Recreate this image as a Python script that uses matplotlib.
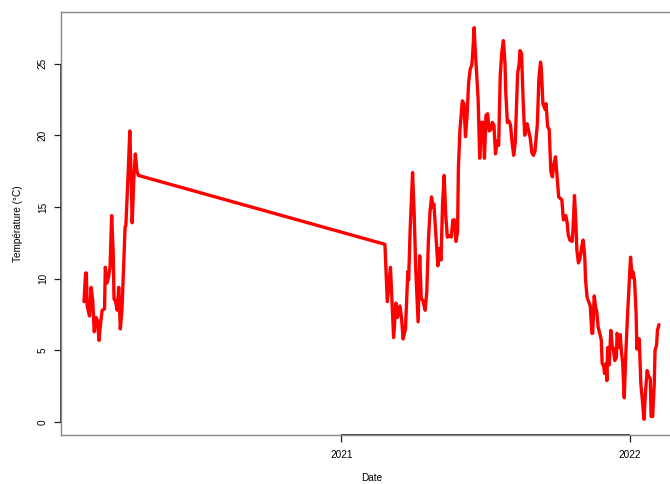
import numpy as np
import matplotlib
matplotlib.use("Agg")
import matplotlib.pyplot as plt
import matplotlib.dates as mdates
import datetime as dt

# Day offsets from 2020-01-01 and temperatures (°C)
days = [40, 42, 43, 44, 47, 49, 51, 53, 55, 57, 59, 61, 63, 66, 67, 69, 71, 73, 75, 77,
        78, 80, 82, 84, 86, 88, 90, 92, 93, 96, 98, 100, 101, 103, 105, 107, 109,
        421, 424, 428, 430, 432, 435, 437, 440, 442, 444, 447, 450, 451, 453, 456, 458,
        460, 463, 465, 467, 469, 472, 474, 476, 478, 480, 482, 483, 485, 488, 490, 492,
        494, 496, 498, 500, 503, 505, 507, 509, 511, 513, 514, 516, 519, 521, 523, 525,
        527, 529, 531, 532, 534, 535, 537, 539, 541, 543, 545, 547, 549, 551, 553, 555,
        557, 559, 561, 563, 565, 567, 569, 571, 573, 574, 576, 578, 580, 582, 584, 586,
        589, 591, 592, 594, 596, 598, 600, 601, 603, 605, 607, 609, 611, 614, 616, 618,
        619, 621, 624, 625, 627, 629, 631, 633, 635, 637, 639, 641, 643, 645, 647, 648,
        650, 652, 653, 655, 658, 659, 661, 663, 664, 666, 668, 670, 672, 674, 675, 677,
        679, 681, 683, 684, 686, 688, 689, 691, 693, 695, 696, 698, 699, 701, 702, 703,
        705, 707, 709, 710, 712, 714, 715, 717, 719, 720, 722, 724, 726, 728, 730, 732,
        734, 735, 737, 739, 740, 742, 743, 745, 747, 749, 751, 753, 755, 757, 758, 760,
        762, 763, 765, 766, 768]
temps = [8.4, 10.4, 10.4, 8.1, 7.4, 9.4, 8.5, 6.3, 7.3, 7.1, 5.7, 6.9, 7.8, 7.9, 10.8, 9.7, 10.1, 10.8, 14.4, 11.8,
         8.6, 8.4, 7.8, 9.4, 6.5, 7.8, 10.6, 13.6, 13.7, 17.5, 20.3, 16.4, 13.9, 16.9, 18.7, 17.5, 17.2,
         12.4, 8.4, 10.8, 8.4, 5.9, 8.3, 7.3, 8.1, 7.3, 5.8, 6.5, 10.5, 9.9, 13.5, 17.4, 14.6,
         10.7, 7.0, 11.6, 8.6, 8.5, 7.8, 9.1, 12.6, 14.6, 15.7, 15.0, 15.2, 13.5, 10.9, 12.1, 11.3,
         15.3, 17.2, 14.4, 12.9, 13.0, 12.9, 14.1, 14.1, 12.6, 13.3, 17.7, 20.4, 22.4, 22.2, 19.9, 21.4,
         23.7, 24.6, 24.9, 25.6, 27.5, 26.3, 24.4, 22.5, 18.4, 20.9, 20.9, 18.4, 21.4, 21.5, 20.3, 20.4,
         20.9, 20.7, 18.7, 19.6, 19.3, 24.2, 25.8, 26.6, 25.0, 23.0, 20.9, 21.0, 20.7, 19.5, 18.6, 19.5,
         24.3, 25.0, 25.9, 25.7, 22.4, 20.0, 20.7, 20.8, 20.3, 19.8, 18.8, 18.6, 18.9, 20.8, 24.0, 25.1,
         24.7, 22.2, 21.8, 22.2, 20.6, 20.4, 17.5, 17.1, 18.0, 18.5, 17.1, 15.7, 15.6, 15.5, 14.1, 14.2,
         14.4, 13.8, 13.1, 12.7, 12.6, 13.3, 15.8, 13.6, 12.0, 11.1, 11.4, 12.2, 12.7, 11.5, 9.9, 8.7,
         8.4, 8.1, 6.2, 6.2, 8.8, 7.9, 7.8, 6.6, 6.2, 5.7, 4.1, 3.9, 3.4, 4.1, 2.9, 5.2,
         4.0, 6.4, 5.2, 5.2, 4.3, 4.5, 6.2, 5.2, 6.1, 5.2, 4.1, 1.7, 4.8, 7.3, 9.4, 11.5,
         10.1, 10.5, 9.9, 7.6, 5.1, 5.8, 5.8, 2.7, 1.5, 0.2, 2.2, 3.6, 3.2, 3.0, 0.4, 0.4,
         2.7, 5.0, 5.4, 6.4, 6.8]
year_ticks = ["2021-01-01", "2022-01-01"]
year_labels = ["2021", "2022"]
y_ticks = [0, 5, 10, 15, 20, 25]

plt.rcParams['font.family'] = ['Liberation Sans', 'DejaVu Sans']

base = dt.date(2020, 1, 1)
dates = [base + dt.timedelta(days=d) for d in days]
xnum = mdates.date2num(dates)

fig = plt.figure(figsize=(6.7, 4.84), dpi=100)
ax = fig.add_axes([61/670, 1 - 435/484, (682 - 61)/670, (435 - 12)/484])

ax.plot(xnum, temps, color='#ff0000', lw=2.4, solid_joinstyle='round', solid_capstyle='round')

# R-style 4% padding
xr = xnum.max() - xnum.min()
ax.set_xlim(xnum.min() - 0.04 * xr, xnum.max() + 0.04 * xr)
yr = max(temps) - min(temps)
ax.set_ylim(min(temps) - 0.04 * yr, max(temps) + 0.04 * yr)

xt = mdates.date2num([dt.date.fromisoformat(s) for s in year_ticks])
ax.set_xticks(xt)
ax.set_xticklabels(year_labels)
ax.set_yticks(y_ticks)
ax.set_yticklabels([str(v) for v in y_ticks], rotation=90, va='center')

for s in ax.spines.values():
    s.set_color('#888888')
    s.set_linewidth(1.0)
ax.spines['right'].set_visible(False)

ax.tick_params(axis='both', direction='out', length=5, width=0.9, color='#222222',
               labelsize=7.2)
ax.tick_params(axis='x', pad=5.5)
ax.tick_params(axis='y', pad=4.5)

# axis lines between first and last tick (R style)
ylo, yhi = ax.get_ylim()
xlo, xhi = ax.get_xlim()
ax.plot([xt[0], xt[-1]], [ylo, ylo], color='#222222', lw=1.2, clip_on=False, solid_capstyle='butt')
ax.plot([xlo, xlo], [y_ticks[0], y_ticks[-1]], color='#222222', lw=1.2, clip_on=False, solid_capstyle='butt')
ax.set_xlim(xlo, xhi)
ax.set_ylim(ylo, yhi)

ax.set_xlabel('Date', fontsize=7.2)
ax.set_ylabel('Température (°C)', fontsize=7.2)
ax.xaxis.set_label_coords(0.5, -0.089)
ax.yaxis.set_label_coords(-0.061, 0.5)

fig.savefig('out.png', dpi=100)
